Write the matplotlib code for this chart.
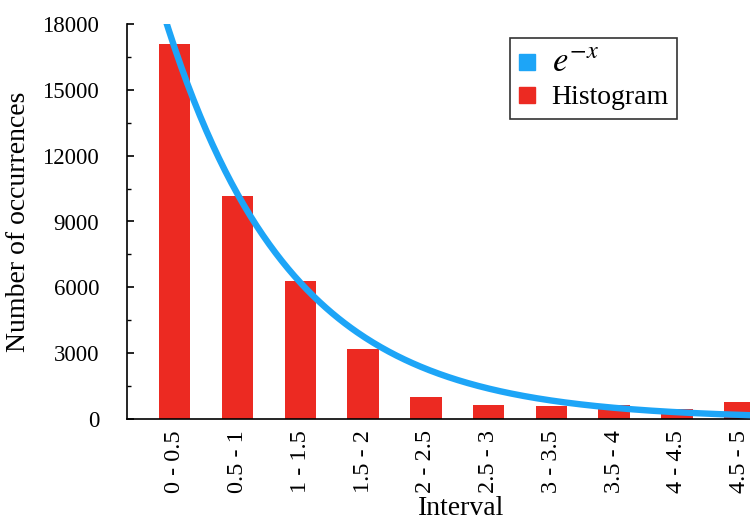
import matplotlib
matplotlib.use("Agg")
import matplotlib.pyplot as plt
from matplotlib.lines import Line2D
import numpy as np

# data
intervals = ["0 - 0.5", "0.5 - 1", "1 - 1.5", "1.5 - 2", "2 - 2.5",
             "2.5 - 3", "3 - 3.5", "3.5 - 4", "4 - 4.5", "4.5 - 5"]
counts = [17100, 10150, 6300, 3200, 1020, 630, 600, 640, 460, 770]
bin_width = 0.5
curve_scale = 21700   # e^{-x} scaled to the counts

red = "#EC2A22"
blue = "#1DA5F7"

plt.rcParams["font.family"] = ["Liberation Serif", "DejaVu Serif"]
plt.rcParams["mathtext.fontset"] = "stix"

fig = plt.figure(figsize=(7.5, 5.23), dpi=100)
# axes runs a bit past the right edge of the figure, as in the reference
ax = fig.add_axes([127/750, 1 - 419/523, 668/750, 395/523])

pos = np.arange(len(counts))
ax.bar(pos, counts, width=0.5, color=red, zorder=2)

# continuous curve, x in interval units -> bar index
x = np.linspace(0, 5, 400)
ax.plot(x / bin_width - 0.5, curve_scale * np.exp(-x), color=blue,
        lw=4.6, zorder=3, solid_capstyle="butt")

ax.set_xlim(-0.76, 9.88)
ax.set_ylim(0, 18000)
ax.set_yticks(np.arange(0, 18001, 3000))
ax.set_yticks(np.arange(1500, 18000, 3000), minor=True)
ax.set_xticks(pos)
ax.set_xticklabels(intervals, rotation=90)

ax.spines["top"].set_visible(False)
ax.spines["right"].set_visible(False)
ax.spines["left"].set_linewidth(1.2)
ax.spines["bottom"].set_linewidth(1.2)
ax.tick_params(axis="y", which="major", direction="in", length=5, width=1.2,
               labelsize=16.5, pad=20)
ax.tick_params(axis="y", which="minor", direction="in", length=3, width=1.0)
ax.tick_params(axis="x", length=0, labelsize=17.5, pad=8)

ax.set_xlabel("Interval", fontsize=20, labelpad=2)
ax.set_ylabel("Number of occurrences", fontsize=20, labelpad=8)

handles = [Line2D([], [], ls="none", marker="s", markersize=11, color=blue),
           Line2D([], [], ls="none", marker="s", markersize=11, color=red)]
leg = ax.legend(handles, ["$e^{-x}$", "Histogram"], loc="upper left",
                bbox_to_anchor=(383/668, 1 - 14/395), fontsize=20,
                frameon=True, fancybox=False, edgecolor="black",
                handletextpad=0.6, borderpad=0.3, labelspacing=0.2,
                handlelength=0.6, borderaxespad=0)
leg.get_frame().set_linewidth(1.2)
leg.get_texts()[0].set_fontsize(25)

fig.savefig("out.png", dpi=100)
